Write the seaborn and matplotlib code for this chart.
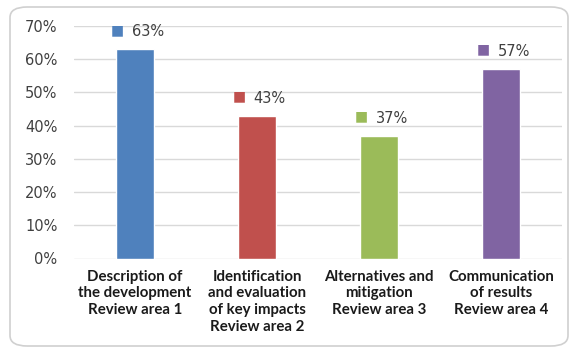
import matplotlib
matplotlib.use("Agg")
import matplotlib.pyplot as plt
from matplotlib.patches import FancyBboxPatch
import seaborn as sns
import pandas as pd

categories = [
    "Description of\nthe development\nReview area 1",
    "Identification\nand evaluation\nof key impacts\nReview area 2",
    "Alternatives and\nmitigation\nReview area 3",
    "Communication\nof results\nReview area 4",
]
values = [0.63, 0.43, 0.37, 0.57]
labels = ["63%", "43%", "37%", "57%"]
colors = ["#4f81bd", "#c0504d", "#9bbb59", "#8064a2"]
yticks = [0, 0.1, 0.2, 0.3, 0.4, 0.5, 0.6, 0.7]
ytick_labels = ["0%", "10%", "20%", "30%", "40%", "50%", "60%", "70%"]

df = pd.DataFrame({"cat": categories, "val": values})

sns.set_style("white")
fig = plt.figure(figsize=(5.71, 3.49), dpi=100)
ax = fig.add_axes([74 / 571, 1 - 258.5 / 349, 488 / 571, 232.5 / 349])

sns.barplot(data=df, x="cat", y="val", hue="cat", palette=colors,
            width=0.31, legend=False, ax=ax, saturation=1)

ax.set_ylim(0, 0.7)
ax.set_xlim(-0.5, 3.5)
ax.set_yticks(yticks)
ax.set_yticklabels(ytick_labels, fontsize=10.5, color="#404040", family="DejaVu Sans")
ax.set_xticks(range(len(categories)))
ax.set_xticklabels(categories, fontsize=10.8, fontweight="bold", family="Lato",
                   color="#1a1a1a", linespacing=1.25)
ax.tick_params(axis="x", length=0, pad=8)
ax.tick_params(axis="y", length=0, pad=12)
ax.set_xlabel("")
ax.set_ylabel("")
ax.yaxis.grid(True, color="#d9d9d9", linewidth=1)
ax.set_axisbelow(True)
for s in ax.spines.values():
    s.set_visible(False)

for i, (v, lab, c) in enumerate(zip(values, labels, colors)):
    ax.annotate("\u25A0", xy=(i, v), xytext=(-12.5, 14), textcoords="offset points",
                ha="center", va="center", color=c, fontsize=10, family="DejaVu Sans")
    ax.annotate(lab, xy=(i, v), xytext=(-2.5, 12.5), textcoords="offset points",
                ha="left", va="center", color="#404040", fontsize=10.5, family="DejaVu Sans")

border = FancyBboxPatch((10 / 571, 1 - 346 / 349), (568 - 10) / 571, (346 - 7) / 349,
                        boxstyle="round,pad=0,rounding_size=0.03",
                        transform=fig.transFigure, fill=False,
                        edgecolor="#d0d0d0", linewidth=1.2)
fig.patches.append(border)

fig.savefig("out.png", dpi=100)
